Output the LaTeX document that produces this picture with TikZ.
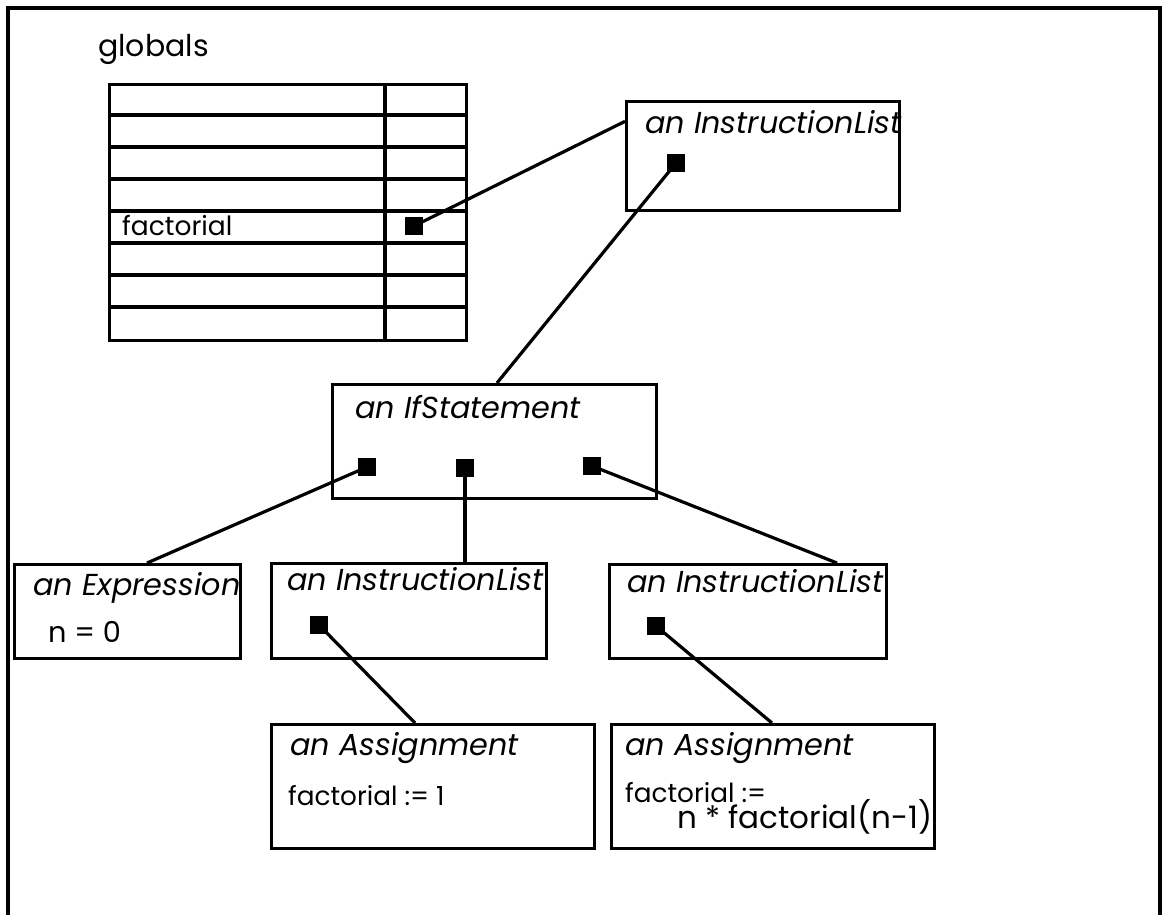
\documentclass[tikz,border=0pt]{standalone}
\usepackage{fontspec}
\setmainfont{Poppins}
\usetikzlibrary{calc}
\begin{document}
\begin{tikzpicture}[x=1pt,y=-1pt,
  frame/.style={line width=3.4pt},
  obj/.style={draw, line width=3.4pt, rectangle, anchor=north west, inner sep=0pt},
  ptr/.style={fill=black, draw=none, rectangle, minimum size=18pt, inner sep=0pt},
  link/.style={line width=3.2pt},
  title/.style={anchor=base west, inner sep=0pt, font=\fontsize{30.3}{33}\selectfont\itshape},
  body/.style={anchor=base west, inner sep=0pt, font=\fontsize{26.3}{29}\selectfont},
  big/.style={anchor=base west, inner sep=0pt, font=\fontsize{31}{34}\selectfont},
]
\useasboundingbox (0,0) rectangle (1166,915);

% outer frame, open at the bottom
\draw[frame] (8,915) -- (8,8) -- (1160,8) -- (1160,915);

% globals table
\node[body, font=\fontsize{30}{33}\selectfont] (glabel) at (98,57) {globals};
\node[obj, minimum width=357pt, minimum height=256pt] (tbl) at (108,83) {};
\foreach \i in {1,...,7}
  \draw[link] ($(tbl.north west)+(0,32*\i)$) -- ($(tbl.north east)+(0,32*\i)$);
\draw[link] ($(tbl.north west)+(277,0)$) -- ($(tbl.south west)+(277,0)$);
\node[body, font=\fontsize{26.5}{29}\selectfont] (fname) at (122,235) {factorial};
\node[ptr] (sqF) at (414,226) {};

% top instruction list
\node[obj, minimum width=273pt, minimum height=109pt] (il1) at (625,100) {};
\node[title] (il1t) at (645,133) {an InstructionList};
\node[ptr] (sqL) at (676,163) {};

% if statement
\node[obj, minimum width=324pt, minimum height=114pt] (ifs) at (331,383) {};
\node[title] (ifst) at (355,418) {an IfStatement};
\node[ptr] (sqA) at (367,467) {};
\node[ptr] (sqB) at (465,468) {};
\node[ptr] (sqC) at (592,466) {};

% expression
\node[obj, minimum width=226pt, minimum height=94pt] (expr) at (13,563) {};
\begin{scope}
  \clip (expr.north west) rectangle (expr.south east);
  \node[title] (exprt) at (33,595) {an Expression};
\end{scope}
\node[big, font=\fontsize{28.8}{31}\selectfont] (exprb) at (48,642) {n = 0};

% then-branch instruction list
\node[obj, minimum width=275pt, minimum height=95pt] (il2) at (270,562) {};
\node[title] (il2t) at (287,590) {an InstructionList};
\node[ptr] (sqM) at (319,625) {};

% else-branch instruction list
\node[obj, minimum width=277pt, minimum height=94pt] (il3) at (608,563) {};
\node[title] (il3t) at (627,592) {an InstructionList};
\node[ptr] (sqN) at (656,626) {};

% assignments
\node[obj, minimum width=323pt, minimum height=124pt] (asg1) at (270,723) {};
\node[title] (asg1t) at (290,755) {an Assignment};
\node[body] (asg1b) at (288,805) {factorial := 1};

\node[obj, minimum width=323pt, minimum height=124pt] (asg2) at (610,723) {};
\node[title] (asg2t) at (625,755) {an Assignment};
\node[body] (asg2b) at (625,802) {factorial :=};
\node[big] (asg2c) at (677,828) {n * factorial(n-1)};

% pointers
\draw[link] (sqF.center) -- ($(il1.north west)!0.19!(il1.south west)$);
\draw[link] (sqL.center) -- ($(ifs.north west)+(166,0)$);
\draw[link] (sqA.center) -- ($(expr.north west)+(134,0)$);
\draw[link] (sqB.center) -- (sqB.center |- il2.north);
\draw[link] (sqC.center) -- ($(il3.north west)+(229,0)$);
\draw[link] (sqM.center) -- ($(asg1.north west)+(145,0)$);
\draw[link] (sqN.center) -- ($(asg2.north west)+(162,0)$);
\end{tikzpicture}
\end{document}
